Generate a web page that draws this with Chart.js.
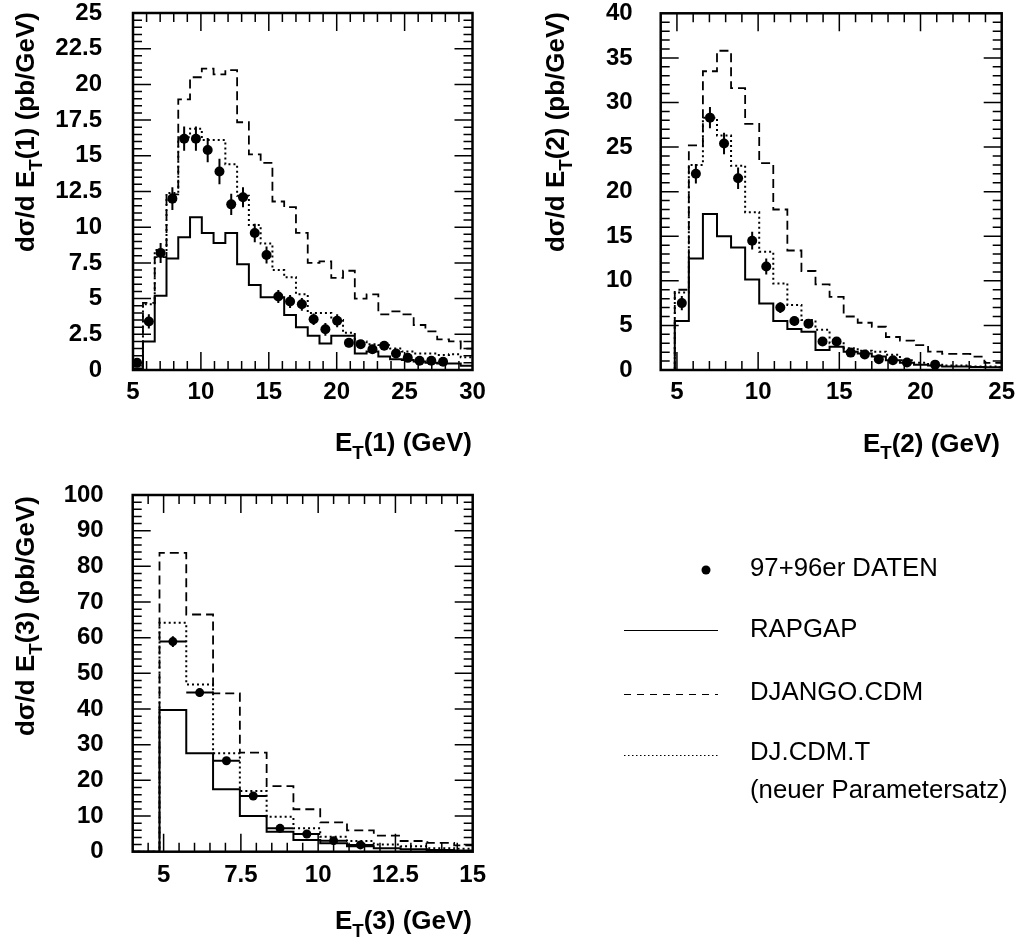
<!DOCTYPE html>
<html><head><meta charset="utf-8">
<script src="https://cdn.jsdelivr.net/npm/chart.js@4.4.0/dist/chart.umd.min.js"></script>
<style>
html,body{margin:0;padding:0;background:#fff;}
body{width:1018px;height:946px;position:relative;overflow:hidden;}
canvas{position:absolute;}
</style></head><body>
<canvas id="c1" width="509" height="473" style="left:0;top:0"></canvas>
<canvas id="c2" width="509" height="473" style="left:509px;top:0"></canvas>
<canvas id="c3" width="509" height="473" style="left:0;top:473px"></canvas>
<canvas id="leg" width="509" height="473" style="left:509px;top:473px"></canvas>
<script>
// ---------------- DATA ----------------
// common bin edges (GeV)
const EDGES = [4.0, 4.867, 5.733, 6.6, 7.467, 8.333, 9.2, 10.067, 10.933, 11.8, 12.667, 13.533, 14.4, 15.267, 16.133, 17.0,
  17.867, 18.733, 19.6, 20.467, 21.333, 22.2, 23.067, 23.933, 24.8, 25.667, 26.533, 27.4, 28.267, 29.133, 30.0];

// Panel 1 : E_T(1)
const P1_RAPGAP = [0, 0.1, 2.0, 5.2, 7.8, 9.3, 10.7, 9.6, 8.9, 9.6, 7.4, 5.95, 5.1, 5.1, 3.85, 3.0, 2.4, 1.85, 2.4, 2.4, 1.15, 1.3, 0.95, 0.75, 0.7, 0.6, 0.5, 0.45, 0.45, 0.3];
const P1_DJANGO = [0, 0.3, 4.7, 7.9, 12.3, 18.95, 20.5, 21.1, 20.7, 21.0, 17.35, 15.1, 14.5, 11.8, 11.4, 9.6, 7.5, 7.6, 6.45, 6.95, 5.0, 5.3, 3.9, 4.1, 3.9, 3.15, 2.7, 2.15, 2.0, 1.5];
const P1_DJCDMT = [0, 0.3, 4.6, 8.4, 12.4, 16.3, 16.9, 16.1, 16.1, 14.4, 12.2, 10.15, 8.85, 7.0, 6.5, 5.3, 4.0, 4.0, 3.5, 2.6, 2.0, 1.8, 1.75, 1.5, 1.3, 1.15, 1.15, 1.05, 1.1, 0.9];
const P1_DATA   = [null, 0.5, 3.4, 8.2, 12.0, 16.2, 16.2, 15.4, 13.9, 11.6, 12.1, 9.6, 8.05, 5.15, 4.8, 4.6, 3.55, 2.85, 3.45, 1.9, 1.8, 1.45, 1.7, 1.15, 0.85, 0.65, 0.65, 0.58, null, null];
const P1_ERR    = [null, 0.25, 0.5, 0.7, 0.8, 0.85, 0.85, 0.85, 0.9, 0.75, 0.7, 0.65, 0.6, 0.45, 0.45, 0.45, 0.4, 0.45, 0.45, 0.3, 0.3, 0.25, 0.3, 0.2, 0.2, 0.15, 0.15, 0.15, null, null];
const P1_XTICKS = [5, 10, 15, 20, 25, 30];
const P1_YTICKS = [0, 2.5, 5, 7.5, 10, 12.5, 15, 17.5, 20, 22.5, 25];

// Panel 2 : E_T(2)
const P2_RAPGAP = [0, 5.5, 12.5, 17.5, 15.0, 13.75, 10.15, 7.45, 5.5, 4.6, 4.3, 2.25, 2.6, 2.05, 1.85, 1.5, 1.1, 0.8, 0.6, 0.5, 0.4, 0.4, 0.35, 0.3, 0.3];
const P2_DJANGO = [0, 9.0, 25.2, 33.5, 35.8, 31.6, 27.6, 23.2, 18.0, 13.4, 11.1, 9.6, 8.2, 6.0, 5.3, 4.85, 3.7, 3.3, 2.8, 2.05, 1.8, 1.8, 1.5, 0.8, 0.8];
const P2_DJCDMT = [0, 8.7, 23.0, 28.3, 26.3, 22.9, 17.7, 13.25, 9.7, 7.3, 5.6, 4.5, 3.0, 2.45, 2.15, 2.05, 1.7, 1.1, 0.8, 0.6, 0.5, 0.5, 0.4, 0.4, 0.3];
const P2_DATA   = [null, 7.5, 22.0, 28.3, 25.4, 21.5, 14.5, 11.6, 7.0, 5.5, 5.2, 3.2, 3.2, 1.95, 1.75, 1.2, 1.1, 0.85, null, 0.6, null, null, null, null, null];
const P2_ERR    = [null, 0.8, 1.1, 1.2, 1.2, 1.2, 1.0, 0.9, 0.6, 0.5, 0.5, 0.4, 0.4, 0.3, 0.3, 0.25, 0.25, 0.2, null, 0.2, null, null, null, null, null];
const P2_XTICKS = [5, 10, 15, 20, 25];
const P2_YTICKS = [0, 5, 10, 15, 20, 25, 30, 35, 40];

// Panel 3 : E_T(3)
const P3_RAPGAP = [0, 39.7, 27.6, 17.5, 10.0, 5.6, 3.3, 2.35, 1.5, 1.0, 0.7, 0.5, 0.35, 0.3];
const P3_DJANGO = [0, 83.8, 66.5, 44.4, 27.8, 18.4, 11.9, 8.2, 6.0, 4.5, 3.0, 2.5, 1.8, 1.2];
const P3_DJCDMT = [0, 64.2, 46.9, 27.6, 17.0, 9.8, 6.55, 4.2, 3.0, 2.0, 1.5, 1.0, 0.8, 0.6];
const P3_DATA   = [null, 58.9, 44.6, 25.5, 15.6, 6.55, 4.96, 3.1, 1.9, null, null, null, null, null];
const P3_ERR    = [null, 1.5, 1.2, 1.0, 0.8, 0.6, 0.5, 0.4, 0.3, null, null, null, null, null];
const P3_XTICKS = [5, 7.5, 10, 12.5, 15];
const P3_YTICKS = [0, 10, 20, 30, 40, 50, 60, 70, 80, 90, 100];

const LEGEND = ['97+96er DATEN', 'RAPGAP', 'DJANGO.CDM', 'DJ.CDM.T', '(neuer Parametersatz)'];

// ---------------- HELPERS ----------------
const FONT = '"Liberation Sans", Arial, Helvetica, sans-serif';

function histPoints(vals) {
  const pts = [];
  for (let k = 0; k < vals.length; k++) pts.push({x: EDGES[k], y: vals[k]});
  pts.push({x: EDGES[vals.length], y: vals[vals.length - 1]});
  return pts;
}
function dataPoints(vals, errs) {
  const pts = [];
  for (let k = 0; k < vals.length; k++) {
    if (vals[k] === null) continue;
    pts.push({x: (EDGES[k] + EDGES[k + 1]) / 2, y: vals[k], lo: EDGES[k], hi: EDGES[k + 1], e: errs[k]});
  }
  return pts;
}

function richWidth(ctx, parts, size) {
  let w = 0;
  for (const p of parts) {
    ctx.font = 'bold ' + (p[1] ? size * 0.72 : size) + 'px ' + FONT;
    w += ctx.measureText(p[0]).width;
  }
  return w;
}
function drawRich(ctx, parts, size) {
  let x = 0;
  ctx.textBaseline = 'alphabetic';
  ctx.textAlign = 'left';
  for (const p of parts) {
    ctx.font = 'bold ' + (p[1] ? size * 0.72 : size) + 'px ' + FONT;
    ctx.fillText(p[0], x, p[1] ? size * 0.3 : 0);
    x += ctx.measureText(p[0]).width;
  }
}

const titlePlugin = {
  id: 'axisTitles',
  afterDraw(chart, args, o) {
    const ctx = chart.ctx;
    ctx.save();
    ctx.fillStyle = '#000';
    const wy = richWidth(ctx, o.yParts, o.size) * o.sx;
    ctx.save();
    ctx.translate(o.yBase, o.yEnd + wy);
    ctx.rotate(-Math.PI / 2);
    ctx.scale(o.sx, 1);
    drawRich(ctx, o.yParts, o.size);
    ctx.restore();
    const wx = richWidth(ctx, o.xParts, o.size) * o.sx;
    ctx.save();
    ctx.translate(o.xEnd - wx, o.xBase);
    ctx.scale(o.sx, 1);
    drawRich(ctx, o.xParts, o.size);
    ctx.restore();
    ctx.restore();
  }
};

const frameTicks = {
  id: 'frameTicks',
  afterDatasetsDraw(chart, args, o) {
    const {ctx, chartArea: a} = chart;
    const x = chart.scales.x, y = chart.scales.y;
    ctx.save();
    ctx.strokeStyle = '#000';
    ctx.lineWidth = 1.5;
    ctx.setLineDash([]);
    const isMaj = (v, m) => Math.abs(v / m - Math.round(v / m)) < 1e-6;
    for (let i = Math.ceil(x.min / o.xMinor - 1e-6); i * o.xMinor <= x.max + 1e-6; i++) {
      const v = i * o.xMinor, px = x.getPixelForValue(v);
      if (px < a.left + 1.5 || px > a.right - 1.5) continue;
      const L = isMaj(v, o.xMajor) ? o.majLen : o.minLen;
      ctx.beginPath();
      ctx.moveTo(px, a.bottom); ctx.lineTo(px, a.bottom - L);
      ctx.moveTo(px, a.top); ctx.lineTo(px, a.top + L);
      ctx.stroke();
    }
    for (let i = Math.ceil(y.min / o.yMinor - 1e-6); i * o.yMinor <= y.max + 1e-6; i++) {
      const v = i * o.yMinor, py = y.getPixelForValue(v);
      if (py < a.top + 1.5 || py > a.bottom - 1.5) continue;
      const L = isMaj(v, o.yMajor) ? o.majLen : o.minLen;
      ctx.beginPath();
      ctx.moveTo(a.left, py); ctx.lineTo(a.left + L, py);
      ctx.moveTo(a.right, py); ctx.lineTo(a.right - L, py);
      ctx.stroke();
    }
    ctx.lineWidth = 2.5;
    ctx.strokeRect(a.left, a.top, a.right - a.left, a.bottom - a.top);
    ctx.restore();
  }
};

const errorBars = {
  id: 'errorBars',
  afterDatasetsDraw(chart, args, o) {
    const {ctx, chartArea: a} = chart;
    const x = chart.scales.x, y = chart.scales.y;
    ctx.save();
    ctx.beginPath();
    ctx.rect(a.left, a.top, a.right - a.left, a.bottom - a.top);
    ctx.clip();
    ctx.strokeStyle = '#000';
    ctx.lineWidth = 2;
    ctx.setLineDash([]);
    chart.data.datasets.forEach(ds => {
      if (!ds.isData) return;
      ds.data.forEach(p => {
        const px = x.getPixelForValue(p.x), py = y.getPixelForValue(p.y);
        ctx.beginPath();
        ctx.moveTo(px, y.getPixelForValue(p.y - p.e));
        ctx.lineTo(px, y.getPixelForValue(p.y + p.e));
        if (o.horiz) {
          ctx.moveTo(x.getPixelForValue(p.lo), py);
          ctx.lineTo(x.getPixelForValue(p.hi), py);
        }
        ctx.stroke();
      });
    });
    ctx.restore();
  }
};

function makeChart(id, cfg) {
  const tickFont = {family: FONT, size: 24, weight: 'bold'};
  return new Chart(document.getElementById(id), {
    type: 'line',
    data: {
      datasets: [
        {type: 'scatter', isData: true, data: dataPoints(cfg.data, cfg.err), pointRadius: cfg.r, pointHoverRadius: cfg.r,
          pointBackgroundColor: '#000', pointBorderWidth: 0, showLine: false, clip: 0},
        {data: histPoints(cfg.rapgap), stepped: 'before', borderColor: '#000', borderWidth: 2, pointRadius: 0, fill: false, clip: 0},
        {data: histPoints(cfg.django), stepped: 'before', borderColor: '#000', borderWidth: 1.8, borderDash: [9, 5], pointRadius: 0, fill: false, clip: 0},
        {data: histPoints(cfg.djcdmt), stepped: 'before', borderColor: '#000', borderWidth: 2, borderDash: [2, 3], pointRadius: 0, fill: false, clip: 0}
      ]
    },
    options: {
      responsive: false, animation: false, events: [],
      layout: {padding: cfg.pad},
      plugins: {legend: {display: false}, tooltip: {enabled: false},
        frameTicks: cfg.ticks, axisTitles: cfg.titles, errorBars: {horiz: cfg.horiz}},
      scales: {
        x: {type: 'linear', min: cfg.xmin, max: cfg.xmax,
          grid: {display: false, drawTicks: false}, border: {display: false},
          afterBuildTicks: ax => { ax.ticks = cfg.xticks.map(v => ({value: v})); },
          afterFit: s => { s.height = cfg.xh; s.paddingLeft = 0; s.paddingRight = 0; },
          ticks: {font: tickFont, color: '#000', padding: cfg.xpad, maxRotation: 0, autoSkip: false, callback: v => String(v)}},
        y: {type: 'linear', min: cfg.ymin, max: cfg.ymax,
          grid: {display: false, drawTicks: false}, border: {display: false},
          afterBuildTicks: ax => { ax.ticks = cfg.yticks.map(v => ({value: v})); },
          afterFit: s => { s.width = cfg.yw; s.paddingTop = 0; s.paddingBottom = 0; },
          ticks: {font: tickFont, color: '#000', padding: cfg.ypad, autoSkip: false, callback: v => String(v)}}
      }
    },
    plugins: [frameTicks, errorBars, titlePlugin]
  });
}

const SUBT = (n) => [['d\u03c3/d E', 0], ['T', 1], ['(' + n + ') (pb/GeV)', 0]];
const XT = (n) => [['E', 0], ['T', 1], ['(' + n + ') (GeV)', 0]];

makeChart('c1', {
  data: P1_DATA, err: P1_ERR, rapgap: P1_RAPGAP, django: P1_DJANGO, djcdmt: P1_DJCDMT, r: 5, horiz: false,
  xmin: 5, xmax: 30, ymin: 0, ymax: 25, xticks: P1_XTICKS, yticks: P1_YTICKS,
  pad: {top: 13, right: 36.5, left: 0, bottom: 0}, xh: 103, yw: 133, xpad: 8, ypad: 31,
  ticks: {xMinor: 1, xMajor: 5, yMinor: 0.5, yMajor: 2.5, majLen: 18, minLen: 9},
  titles: {size: 26, sx: 1.0, yParts: SUBT(1), yBase: 34, yEnd: 12, xParts: XT(1), xEnd: 472, xBase: 451}
});
makeChart('c2', {
  data: P2_DATA, err: P2_ERR, rapgap: P2_RAPGAP, django: P2_DJANGO, djcdmt: P2_DJCDMT, r: 5, horiz: false,
  xmin: 4, xmax: 25, ymin: 0, ymax: 40, xticks: P2_XTICKS, yticks: P2_YTICKS,
  pad: {top: 13.3, right: 16.3, left: 0, bottom: 0}, xh: 103, yw: 151.7, xpad: 8, ypad: 28,
  ticks: {xMinor: 1, xMajor: 5, yMinor: 1, yMajor: 5, majLen: 18, minLen: 9},
  titles: {size: 26, sx: 1.0, yParts: SUBT(2), yBase: 55, yEnd: 12, xParts: XT(2), xEnd: 491, xBase: 451.5}
});
makeChart('c3', {
  data: P3_DATA, err: P3_ERR, rapgap: P3_RAPGAP, django: P3_DJANGO, djcdmt: P3_DJCDMT, r: 4.5, horiz: true,
  xmin: 4, xmax: 15, ymin: 0, ymax: 100, xticks: P3_XTICKS, yticks: P3_YTICKS,
  pad: {top: 22, right: 36.3, left: 0, bottom: 0}, xh: 94.3, yw: 132.7, xpad: 9, ypad: 29,
  ticks: {xMinor: 0.5, xMajor: 2.5, yMinor: 2, yMajor: 10, majLen: 18, minLen: 9},
  titles: {size: 26, sx: 1.0, yParts: SUBT(3), yBase: 34, yEnd: 23, xParts: XT(3), xEnd: 472, xBase: 456}
});

// ---------------- LEGEND ----------------
(function () {
  const c = document.getElementById('leg');
  const ctx = c.getContext('2d');
  ctx.translate(-509, -473);
  ctx.fillStyle = '#000';
  ctx.strokeStyle = '#000';
  ctx.beginPath(); ctx.arc(706, 570, 4.5, 0, Math.PI * 2); ctx.fill();
  ctx.lineWidth = 1;
  ctx.beginPath(); ctx.moveTo(624, 630.5); ctx.lineTo(718, 630.5); ctx.stroke();
  ctx.setLineDash([7, 6]);
  ctx.beginPath(); ctx.moveTo(624, 694.5); ctx.lineTo(718, 694.5); ctx.stroke();
  ctx.setLineDash([1.5, 2.5]);
  ctx.beginPath(); ctx.moveTo(624, 755.5); ctx.lineTo(718, 755.5); ctx.stroke();
  ctx.setLineDash([]);
  ctx.font = '25px ' + FONT;
  ctx.textBaseline = 'alphabetic';
  ctx.save(); ctx.translate(750, 0); ctx.scale(1.03, 1);
  ctx.fillText(LEGEND[0], 0, 576);
  ctx.fillText(LEGEND[1], 0, 637);
  ctx.fillText(LEGEND[2], 0, 700);
  ctx.fillText(LEGEND[3], 0, 760);
  ctx.fillText(LEGEND[4], 0, 798);
  ctx.restore();
})();
</script>
</body></html>
